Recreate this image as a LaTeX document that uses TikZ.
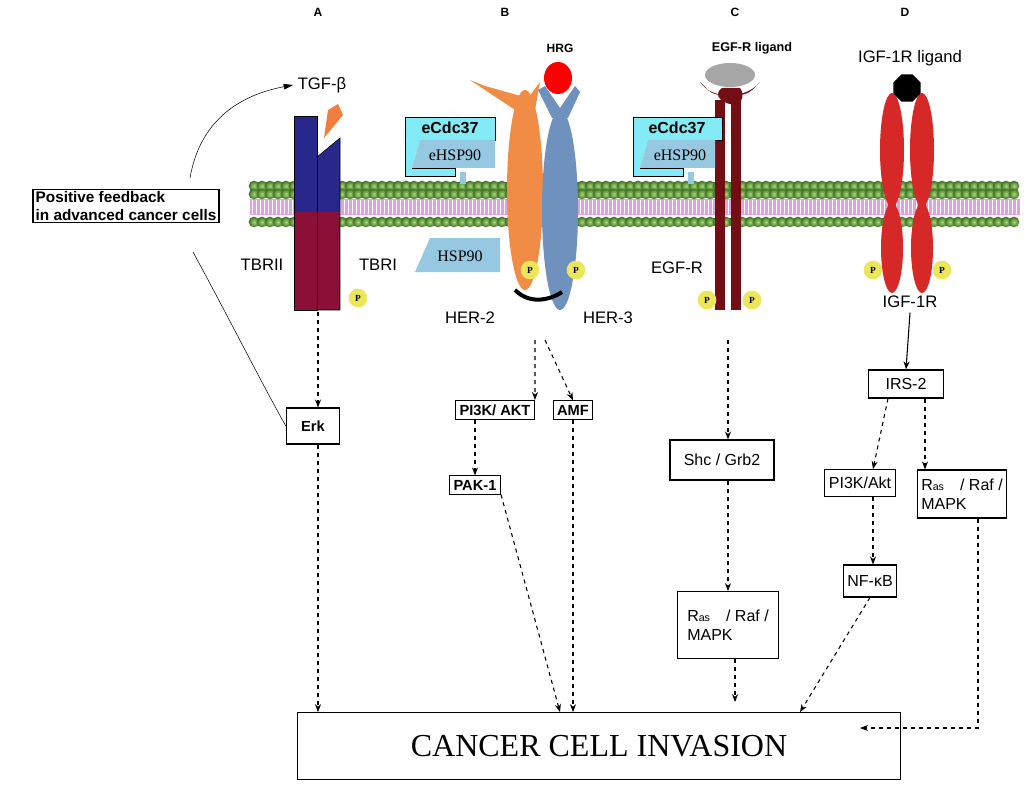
\documentclass[tikz,border=0pt]{standalone}
\usepackage{fontspec}
\setmainfont{Liberation Sans}
\newfontfamily\serifx{Liberation Serif}
\usetikzlibrary{arrows.meta,shapes.geometric,calc}
\definecolor{memg}{RGB}{60,115,35}
\definecolor{memgl}{RGB}{170,215,120}
\definecolor{pinkm}{RGB}{225,160,225}
\definecolor{cyanb}{RGB}{130,235,245}
\definecolor{lblue}{RGB}{150,200,225}
\definecolor{navy}{RGB}{40,40,140}
\definecolor{wine}{RGB}{140,15,55}
\definecolor{her2}{RGB}{240,140,70}
\definecolor{her3}{RGB}{110,145,190}
\definecolor{egfr}{RGB}{115,15,20}
\definecolor{igfr}{RGB}{215,40,40}
\definecolor{pyel}{RGB}{235,230,90}
\begin{document}
\begin{tikzpicture}[x=0.75pt,y=-0.75pt,
  box/.style={draw,thick,fill=white,inner sep=3pt,font=\fontsize{11}{13}\selectfont\bfseries},
  lab/.style={font=\fontsize{12.5}{14}\selectfont},
  hdr/.style={font=\fontsize{9}{11}\selectfont\bfseries},
  dar/.style={dashed,thick,-{Stealth[length=6pt]}},
  pcirc/.style={circle,fill=pyel,inner sep=0pt,minimum size=14pt,font=\serifx\fontsize{7}{8}\selectfont\bfseries}]
\useasboundingbox (0,0) rectangle (1024,788);
\fill[white] (0,0) rectangle (1024,788);
% membrane
\fill[pinkm] (250,199) rectangle (1020,215);
\foreach \x in {252,256,...,1018} \draw[white,line width=0.6pt] (\x,200) -- (\x,214);
\foreach \y in {186,194,222} {
  \foreach \x in {254,262,...,1018} \shade[inner color=memgl,outer color=memg] (\x,\y) circle (4pt);
}
% headers
\node[hdr] (hA) at (318,12) {A};
\node[hdr] (hB) at (505,12) {B};
\node[hdr] (hC) at (735,12) {C};
\node[hdr] (hD) at (905,12) {D};
% ---- A ----
\fill[navy] (294,116) rectangle (317,212);
\fill[wine] (294,212) rectangle (317,310);
\fill[navy] (317,157) -- (340,138) -- (340,212) -- (317,212) -- cycle;
\fill[wine] (317,212) rectangle (340,310);
\draw (294,116) rectangle (317,310);
\draw (317,157) -- (340,138) -- (340,310) -- (317,310);
\fill[her2!90!red] (324,138) -- (328,110) -- (338,104) -- (343,115) -- cycle;
\node[lab] (tgf) at (322,85) {TGF-β};
\node[box,align=left,font=\fontsize{11.5}{13}\selectfont\bfseries,inner sep=2pt] (pf) at (126,206) {Positive feedback\\in advanced cancer cells};
\node[lab] (tb2) at (262,265) {TBRII};
\node[lab] (tb1) at (378,265) {TBRI};
\node[pcirc] (pA) at (358,298) {P};
\node[box,minimum width=40pt,minimum height=27pt] (erk) at (313,426) {Erk};
\coordinate (fbtop) at (190,178);
\coordinate (fbbot) at (193,252);
\draw[-{Triangle[length=7pt]}] (fbtop) .. controls (200,120) and (240,95) .. (tgf.west);
\draw (fbbot) .. controls (230,320) and (260,380) .. (erk.west);
\coordinate (recA) at (318,312);
\draw[dar] (recA) -- (erk.north -| recA);
% ---- B ----
\fill[her2] (525,190) ellipse (18 and 100);
\fill[her2] (515,110) -- (470,80) -- (485,86) -- (528,98) -- (540,82) -- (535,110) -- cycle;
\fill[her3] (560,210) ellipse (18 and 100);
\fill[her3] (552,118) -- (538,90) -- (545,86) -- (560,108) -- (575,86) -- (580,92) -- (568,118) -- cycle;
\fill[red] (558,78) ellipse (14 and 16);
\node[hdr] (hrg) at (560,48) {HRG};
\draw[line width=3pt] (515,290) .. controls (530,305) and (550,300) .. (562,292);
\node[pcirc] (pB1) at (530,270) {P};
\node[pcirc] (pB2) at (576,270) {P};
\node[lab] (her2l) at (470,318) {HER-2};
\node[lab] (her3l) at (608,318) {HER-3};
% eCdc37 B
\fill[lblue] (460,172) rectangle (466,184);
\draw[fill=cyanb] (405,117) rectangle (495,140);
\fill[cyanb] (405,140) -- (420,140) -- (412,168) -- (455,168) -- (455,176) -- (405,176) -- cycle;
\draw (405,140) -- (405,176) -- (455,176) -- (455,168) -- (412,168);
\fill[lblue] (420,140) -- (495,140) -- (495,168) -- (412,168) -- cycle;
\node[font=\fontsize{12}{14}\selectfont\bfseries] (ecB) at (450,128) {eCdc37};
\node[font=\serifx\fontsize{12}{14}\selectfont] (ehB) at (455,155) {eHSP90};
\fill[lblue] (430,238) -- (500,238) -- (500,272) -- (415,272) -- cycle;
\node[font=\serifx\fontsize{12}{14}\selectfont] (hsp) at (460,256) {HSP90};
\node[box] (pi3kB) at (495,410) {PI3K/ AKT};
\node[box] (amf) at (573,410) {AMF};
\node[box] (pak) at (475,485) {PAK-1};
\coordinate (dimer1) at (535,340);
\coordinate (dimer2) at (545,340);
\draw[dar] (dimer1) -- (pi3kB.north east);
\draw[dar] (dimer2) -- (amf.north);
\draw[dar] (pi3kB.south -| pak.north) -- (pak.north);
% ---- C ----
\fill[gray!70] (730,75) ellipse (25 and 12);
\fill[egfr] (700,82) .. controls (712,100) and (745,100) .. (760,82) -- (752,90) .. controls (745,98) and (715,98) .. (708,90) -- cycle;
\fill[egfr] (722,88) .. controls (712,95) and (722,105) .. (738,105) .. controls (742,100) and (745,95) .. (740,88) -- cycle;
\fill[egfr] (715,100) rectangle (725,310);
\fill[egfr] (731,100) rectangle (741,310);
\node[pcirc] (pC1) at (707,300) {P};
\node[pcirc] (pC2) at (752,300) {P};
\node[lab] (egfrl) at (677,268) {EGF-R};
\node[hdr,font=\fontsize{9.5}{11}\selectfont\bfseries] (egfrlig) at (752,48) {EGF-R ligand};
\fill[lblue] (688,172) rectangle (694,184);
\draw[fill=cyanb] (633,117) rectangle (722,140);
\fill[cyanb] (633,140) -- (648,140) -- (640,168) -- (683,168) -- (683,176) -- (633,176) -- cycle;
\draw (633,140) -- (633,176) -- (683,176) -- (683,168) -- (640,168);
\fill[lblue] (648,140) -- (715,140) -- (715,168) -- (640,168) -- cycle;
\node[font=\fontsize{12}{14}\selectfont\bfseries] (ecC) at (677,128) {eCdc37};
\node[font=\serifx\fontsize{12}{14}\selectfont] (ehC) at (680,155) {eHSP90};
\node[box,font=\fontsize{12}{14}\selectfont,minimum height=30pt,minimum width=78pt] (shc) at (722,460) {Shc / Grb2};
\node[box,font=\fontsize{12}{14}\selectfont,align=left,minimum height=50pt,minimum width=76pt] (rasC) at (728,625) {R{\fontsize{8}{9}\selectfont as}\quad / Raf /\\MAPK};
\coordinate (recC) at (728,340);
\draw[dar] (recC) -- (shc.north -| recC);
\draw[dar] (shc.south -| recC) -- (rasC.north -| recC);
% ---- D ----
\fill[igfr] (892,150) ellipse (12 and 57);
\fill[igfr] (922,150) ellipse (12 and 57);
\fill[igfr] (892,248) ellipse (11 and 45);
\fill[igfr] (922,248) ellipse (11 and 45);
\fill[igfr] (888,195) rectangle (896,212);
\fill[igfr] (918,195) rectangle (926,212);
\node[regular polygon,regular polygon sides=8,fill=black,minimum size=22pt,inner sep=0pt] (lig) at (907,88) {};
\node[lab] (igflig) at (910,58) {IGF-1R ligand};
\node[pcirc] (pD1) at (873,270) {P};
\node[pcirc] (pD2) at (942,270) {P};
\node[lab] (igfl) at (910,302) {IGF-1R};
\node[box,font=\fontsize{12}{14}\selectfont,minimum width=56pt,minimum height=21pt] (irs) at (906,384) {IRS-2};
\node[box,font=\fontsize{12}{14}\selectfont,minimum height=20pt] (pi3kD) at (860,483) {PI3K/Akt};
\node[box,font=\fontsize{12}{14}\selectfont,align=left,minimum height=36pt] (rasD) at (962,494) {R{\fontsize{8}{9}\selectfont as}\quad / Raf /\\MAPK};
\node[box,font=\fontsize{12}{14}\selectfont,minimum height=24pt] (nfkb) at (870,581) {NF-κB};
\draw[thick,-{Stealth[length=6pt]}] (igfl.south) -- (irs.north);
\draw[dar] ($(irs.south)+(-18,0)$) -- (pi3kD.north -| 873,0);
\draw[dar] ($(irs.south)+(19,0)$) -- (rasD.north -| 925,0);
\draw[dar] (pi3kD.south -| 873,0) -- (nfkb.north -| 873,0);
% ---- invasion ----
\node[draw,thick,minimum width=452pt,minimum height=50pt,font=\serifx\fontsize{24}{28}\selectfont] (inv) at (599,746) {CANCER CELL INVASION};
\draw[dar] (erk.south -| recA) -- (inv.north -| recA);
\draw[dar] (pak.south east) -- (inv.north -| 560,0);
\draw[dar] (amf.south) -- (inv.north -| amf.south);
\draw[dar] (rasC.south -| 735,0) -- ($(inv.north -| 735,0)+(0,-10)$);
\draw[dar] (nfkb.south) -- (inv.north -| 800,0);
\coordinate (bend) at (978,728);
\coordinate (invend) at (860,728);
\draw[dar] (rasD.south -| bend) -- (bend) -- (invend);
\end{tikzpicture}
\end{document}
